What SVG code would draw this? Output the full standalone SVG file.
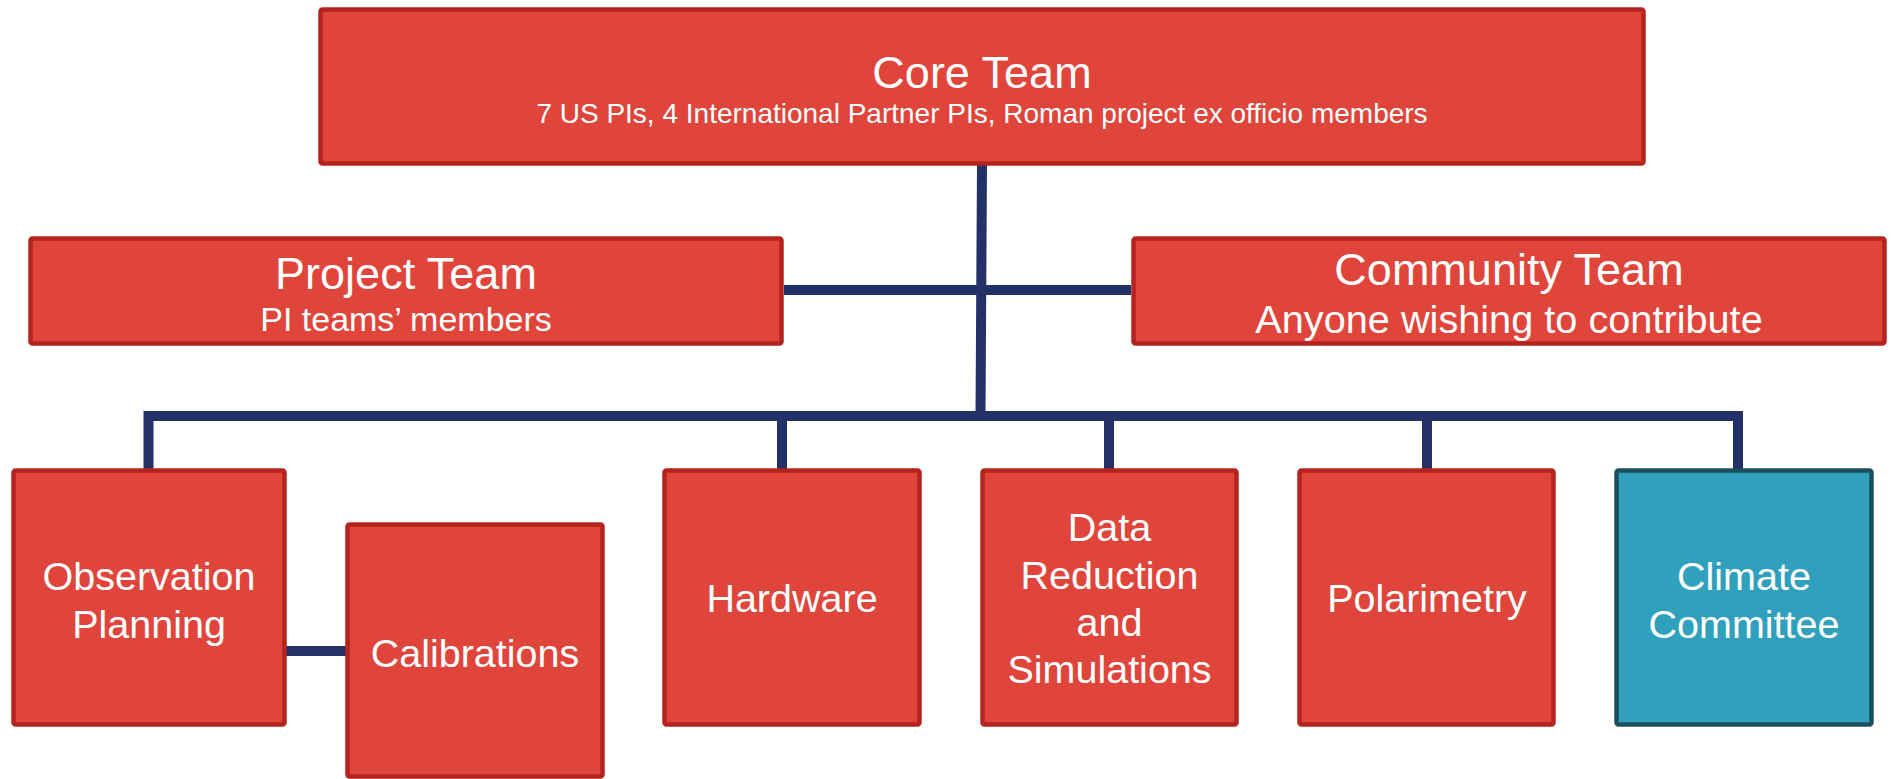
<svg xmlns="http://www.w3.org/2000/svg" width="1892" height="779" viewBox="0 0 1892 779">
<style>
  .box { fill: #E0453C; stroke: #B5231F; stroke-width: 4.5; }
  .teal { fill: #31A0BC; stroke: #1B4F5E; stroke-width: 4.5; }
  .conn { fill: none; stroke: #243169; stroke-width: 10; stroke-linejoin: miter; stroke-linecap: butt; }
  text { font-family: "Liberation Sans", Arial, sans-serif; fill: #FFFFFF; text-anchor: middle; }
  .t45 { font-size: 45px; }
  .t28 { font-size: 28px; }
  .t34 { font-size: 34px; }
  .t40 { font-size: 39.7px; }
  .tb { font-size: 39.5px; }
</style>
<rect width="1892" height="779" fill="#FFFFFF"/>
<g id="connectors">
  <path class="conn" d="M982 164 L980.5 416"/>
  <path class="conn" d="M784 290 L1131 290"/>
  <path class="conn" d="M148.5 470 V416 H1738 V470"/>
  <path class="conn" d="M782 416 V470"/>
  <path class="conn" d="M1109 416 V470"/>
  <path class="conn" d="M1427 416 V470"/>
  <path class="conn" d="M286 651 H346"/>
</g>
<g id="core">
  <rect class="box" x="320.5" y="9.5" width="1323" height="154" rx="2"/>
  <text class="t45" x="982" y="88">Core Team</text>
  <text class="t28" x="982" y="123">7 US PIs, 4 International Partner PIs, Roman project ex officio members</text>
</g>
<g id="project">
  <rect class="box" x="30.5" y="238.5" width="751" height="105" rx="2"/>
  <text class="t45" x="406" y="288.5">Project Team</text>
  <text class="t34" x="406" y="331">PI teams’ members</text>
</g>
<g id="community">
  <rect class="box" x="1133.5" y="238.5" width="751" height="105" rx="2"/>
  <text class="t45" x="1509" y="285">Community Team</text>
  <text class="t40" x="1509" y="333">Anyone wishing to contribute</text>
</g>
<g id="observation">
  <rect class="box" x="13.5" y="470.5" width="271" height="254" rx="2"/>
  <text class="tb" x="149" y="590">Observation</text>
  <text class="tb" x="149" y="638">Planning</text>
</g>
<g id="calibrations">
  <rect class="box" x="347.5" y="524.5" width="255" height="252" rx="2"/>
  <text class="tb" x="475" y="667">Calibrations</text>
</g>
<g id="hardware">
  <rect class="box" x="664.5" y="470.5" width="255" height="254" rx="2"/>
  <text class="tb" x="792" y="612">Hardware</text>
</g>
<g id="data">
  <rect class="box" x="982.5" y="470.5" width="254" height="254" rx="2"/>
  <text class="tb" x="1109.5" y="541">Data</text>
  <text class="tb" x="1109.5" y="588.5">Reduction</text>
  <text class="tb" x="1109.5" y="636">and</text>
  <text class="tb" x="1109.5" y="683">Simulations</text>
</g>
<g id="polarimetry">
  <rect class="box" x="1299.5" y="470.5" width="254" height="254" rx="2"/>
  <text class="tb" x="1427" y="612">Polarimetry</text>
</g>
<g id="climate">
  <rect class="teal" x="1616.5" y="470.5" width="255" height="254" rx="2"/>
  <text class="tb" x="1744" y="590">Climate</text>
  <text class="tb" x="1744" y="638">Committee</text>
</g>
</svg>
